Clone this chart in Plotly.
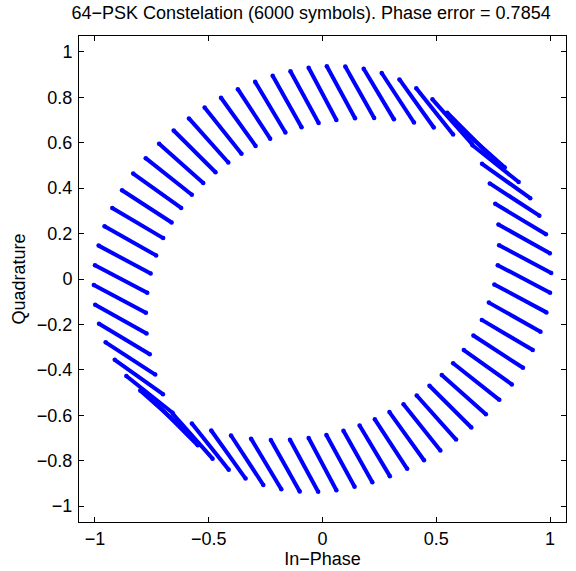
import plotly.graph_objects as go

# Each received symbol cloud is drawn as a streak between two end points (I, Q).
streak_start_i = [
    1.000, 1.005, 0.999, 0.982, 0.953, 0.913, 0.862, 0.801,
    0.732, 0.656, 0.574, 0.489, 0.402, 0.314, 0.227, 0.143,
    0.061, -0.017, -0.092, -0.163, -0.230, -0.294, -0.356, -0.414,
    -0.470, -0.524, -0.574, -0.621, -0.663, -0.700, -0.731, -0.755,
    -1.000, -1.005, -0.999, -0.982, -0.953, -0.913, -0.862, -0.801,
    -0.732, -0.656, -0.574, -0.489, -0.402, -0.314, -0.227, -0.143,
    -0.061, 0.017, 0.092, 0.163, 0.230, 0.294, 0.356, 0.414,
    0.470, 0.524, 0.574, 0.621, 0.663, 0.700, 0.731, 0.755,
]
streak_start_q = [
    -0.061, 0.026, 0.113, 0.197, 0.279, 0.356, 0.427, 0.491,
    0.548, 0.596, 0.636, 0.667, 0.689, 0.703, 0.709, 0.708,
    0.700, 0.687, 0.668, 0.645, 0.618, 0.586, 0.552, 0.513,
    0.470, 0.423, 0.371, 0.313, 0.249, 0.180, 0.104, 0.024,
    0.061, -0.026, -0.113, -0.197, -0.279, -0.356, -0.427, -0.491,
    -0.548, -0.596, -0.636, -0.667, -0.689, -0.703, -0.709, -0.708,
    -0.700, -0.687, -0.668, -0.645, -0.618, -0.586, -0.552, -0.513,
    -0.470, -0.423, -0.371, -0.313, -0.249, -0.180, -0.104, -0.024,
]
streak_end_i = [
    0.770, 0.776, 0.773, 0.759, 0.735, 0.701, 0.659, 0.607,
    0.548, 0.483, 0.412, 0.338, 0.260, 0.181, 0.100, 0.019,
    -0.061, -0.141, -0.219, -0.296, -0.372, -0.446, -0.518, -0.587,
    -0.654, -0.718, -0.777, -0.832, -0.881, -0.924, -0.958, -0.984,
    -0.770, -0.776, -0.773, -0.759, -0.735, -0.701, -0.659, -0.607,
    -0.548, -0.483, -0.412, -0.338, -0.260, -0.181, -0.100, -0.019,
    0.061, 0.141, 0.219, 0.296, 0.372, 0.446, 0.518, 0.587,
    0.654, 0.718, 0.777, 0.832, 0.881, 0.924, 0.958, 0.984,
]
streak_end_q = [
    0.061, 0.149, 0.240, 0.331, 0.421, 0.507, 0.589, 0.664,
    0.732, 0.791, 0.840, 0.879, 0.907, 0.926, 0.936, 0.937,
    0.930, 0.915, 0.895, 0.868, 0.836, 0.798, 0.755, 0.707,
    0.654, 0.596, 0.532, 0.464, 0.391, 0.313, 0.232, 0.147,
    -0.061, -0.149, -0.240, -0.331, -0.421, -0.507, -0.589, -0.664,
    -0.732, -0.791, -0.840, -0.879, -0.907, -0.926, -0.936, -0.937,
    -0.930, -0.915, -0.895, -0.868, -0.836, -0.798, -0.755, -0.707,
    -0.654, -0.596, -0.532, -0.464, -0.391, -0.313, -0.232, -0.147,
]

x_ticks = [-1, -0.5, 0, 0.5, 1]
x_tick_text = ["\u22121", "\u22120.5", "0", "0.5", "1"]
y_ticks = [-1, -0.8, -0.6, -0.4, -0.2, 0, 0.2, 0.4, 0.6, 0.8, 1]
y_tick_text = ["\u22121", "\u22120.8", "\u22120.6", "\u22120.4", "\u22120.2",
               "0", "0.2", "0.4", "0.6", "0.8", "1"]

# one polyline with gaps between the streaks
xs, ys = [], []
for xa, ya, xb, yb in zip(streak_start_i, streak_start_q, streak_end_i, streak_end_q):
    xs += [xa, xb, None]
    ys += [ya, yb, None]

blue = "#0000ff"
fig = go.Figure(
    go.Scatter(
        x=xs, y=ys, mode="lines+markers",
        line=dict(color=blue, width=4),
        marker=dict(color=blue, size=4.5),
        connectgaps=False, hoverinfo="skip", showlegend=False,
    )
)

font = dict(family="Liberation Sans, Arial, Helvetica, sans-serif", size=18, color="black")
axis_common = dict(
    showline=True, linecolor="black", linewidth=1, mirror="ticks",
    ticks="inside", ticklen=5, tickcolor="black", tickwidth=1,
    showgrid=False, zeroline=False, range=[-1.07, 1.07],
    tickfont=dict(size=18), automargin=False,
)
fig.update_layout(
    width=576, height=571,
    margin=dict(l=79, r=10, t=36, b=49),
    paper_bgcolor="white", plot_bgcolor="white",
    font=font,
    title=dict(
        text="64\u2212PSK Constelation (6000 symbols). Phase error = 0.7854",
        xref="container", x=0.54, xanchor="center",
        yref="container", y=0.977, yanchor="middle",
        font=dict(size=18), automargin=False,
    ),
    xaxis=dict(**axis_common, tickvals=x_ticks, ticktext=x_tick_text,
               ticklabelstandoff=0,
               title=dict(text="In\u2212Phase", standoff=0, font=dict(size=18))),
    yaxis=dict(**axis_common, tickvals=y_ticks, ticktext=y_tick_text,
               ticklabelstandoff=2,
               title=dict(text="Quadrature", standoff=6, font=dict(size=18))),
)

fig.write_html("out.html")
